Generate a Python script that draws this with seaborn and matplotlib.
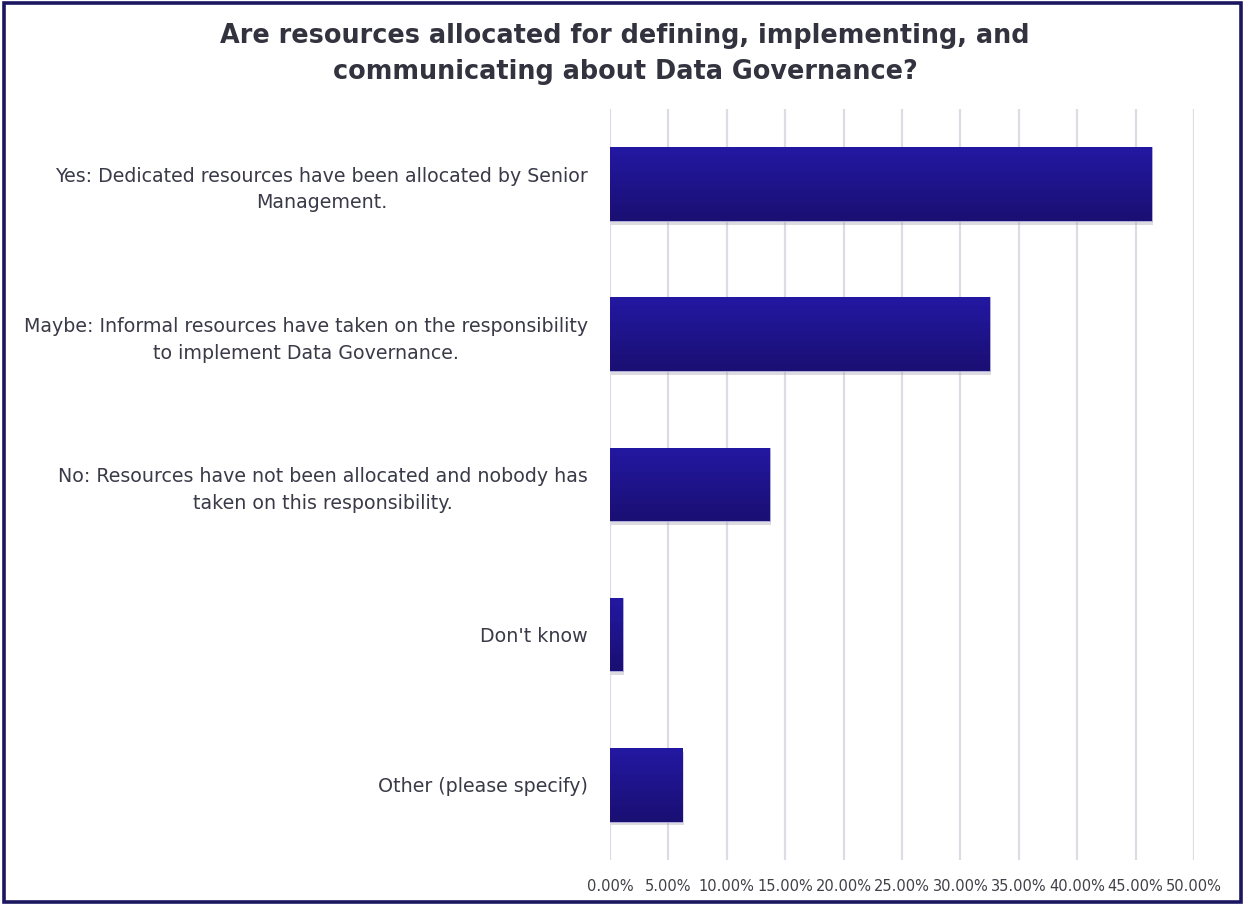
import numpy as np
import pandas as pd
import matplotlib
matplotlib.use("Agg")
import matplotlib.pyplot as plt
import seaborn as sns
from matplotlib.patches import Rectangle
from matplotlib.ticker import FuncFormatter, MultipleLocator

# Survey responses
categories = [
    "Yes: Dedicated resources have been allocated by Senior\nManagement.",
    "Maybe: Informal resources have taken on the responsibility\nto implement Data Governance.",
    "No: Resources have not been allocated and nobody has\ntaken on this responsibility.",
    "Don't know",
    "Other (please specify)",
]
shares = [46.4, 32.5, 13.7, 1.1, 6.2]

title = "Are resources allocated for defining, implementing, and\ncommunicating about Data Governance?"

sns.set_theme(style="white")
plt.rcParams["font.family"] = ["DejaVu Sans"]

df = pd.DataFrame({"category": categories, "share": shares})

fig = plt.figure(figsize=(12.45, 9.05), dpi=100)
ax = fig.add_axes([0.49, 0.0497, 0.469, 0.83])

sns.barplot(data=df, x="share", y="category", ax=ax, color="#1f1590",
            width=0.49, saturation=1, edgecolor="none", zorder=3)

# vertical gradient fill and soft drop shadow on each bar
grad = np.linspace(0, 1, 256).reshape(-1, 1)
cmap = matplotlib.colors.LinearSegmentedColormap.from_list(
    "bar", ["#2318a2", "#1a0f72"])
for p in ax.patches:
    x0, y0 = p.get_x(), p.get_y()
    w, h = p.get_width(), p.get_height()
    sh = Rectangle((x0 + 0.12, y0 + 0.025), w, h, facecolor="#9a9aa8",
                   alpha=0.35, edgecolor="none", zorder=2)
    ax.add_patch(sh)
    im = ax.imshow(grad, cmap=cmap, aspect="auto", zorder=4,
                   extent=(x0, x0 + w, y0 + h, y0), origin="upper")
    im.set_clip_path(p)
    p.set_edgecolor("#b8b4e0")
    p.set_linewidth(0.6)

ax.set_xlim(0, 50)
ax.set_ylim(4.5, -0.5)
ax.xaxis.set_major_locator(MultipleLocator(5))
ax.xaxis.set_major_formatter(FuncFormatter(lambda v, _: f"{v:.2f}%"))
ax.grid(axis="x", color="#dddce6", linewidth=1.6, zorder=0)
ax.set_axisbelow(True)
for s in ax.spines.values():
    s.set_visible(False)
ax.set_xlabel("")
ax.set_ylabel("")
ax.tick_params(axis="x", labelsize=10.5, colors="#404048", length=0, pad=14)
ax.tick_params(axis="y", length=0, pad=16)
for lbl in ax.get_yticklabels():
    lbl.set_fontsize(13.7)
    lbl.set_color("#3a3a48")
    lbl.set_multialignment("center")
    lbl.set_linespacing(1.5)

fig.text(0.502, 0.94, title, ha="center", va="center", fontsize=18.4,
         fontweight="bold", color="#33333f", linespacing=1.5)

# outer frame
fig.patches.append(Rectangle((0.003, 0.003), 0.994, 0.994,
                             transform=fig.transFigure, fill=False,
                             edgecolor="#1b1660", linewidth=2.6))

fig.savefig("out.png", dpi=100, facecolor="white")
